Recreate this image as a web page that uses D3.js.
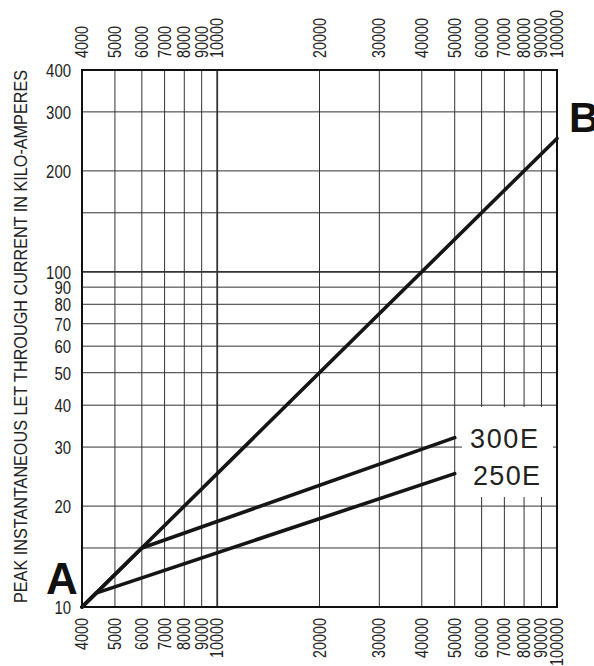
<!DOCTYPE html>
<html><head><meta charset="utf-8">
<script src="https://cdn.jsdelivr.net/npm/d3@7"></script>
<style>
body{margin:0;background:#fff;}
svg{display:block;}
.tk{font-family:"Liberation Sans","DejaVu Sans",sans-serif;font-size:18px;fill:#222;}
</style></head>
<body>
<script>
const xTickValues = [4000,5000,6000,7000,8000,9000,10000,20000,30000,40000,50000,60000,70000,80000,90000,100000];
const yTickValues = [10,20,30,40,50,60,70,80,90,100,200,300,400];
const yGridValues = [10,15,20,30,40,50,60,70,80,90,100,150,200,300,400];
const lineAB = [[4000,10],[100000,250]];
const line300E = [[4000,10],[6000,15],[50000,32]];
const line250E = [[4000,10],[4400,11],[50000,25]];
const seriesLabels = ["300E","250E"];
const yTitle = "PEAK INSTANTANEOUS LET THROUGH CURRENT IN KILO-AMPERES";

const W=594,H=666;
const L=82,R=557,T=70,B=607;
const svg=d3.select("body").append("svg").attr("width",W).attr("height",H);
const x=d3.scaleLog().domain([4000,100000]).range([L,R]);
const y=d3.scaleLog().domain([10,400]).range([B,T]);
const digitW=8.0;

// grid
svg.append("g").selectAll("line").data(xTickValues).join("line")
  .attr("x1",d=>x(d)).attr("x2",d=>x(d)).attr("y1",T).attr("y2",B)
  .attr("stroke","#333").attr("stroke-width",d=>d===10000?1.8:1);
svg.append("g").selectAll("line").data(yGridValues).join("line")
  .attr("y1",d=>y(d)).attr("y2",d=>y(d)).attr("x1",L).attr("x2",R)
  .attr("stroke","#333").attr("stroke-width",d=>d===100?1.8:1);

// white box behind labels
svg.append("rect").attr("x",462).attr("y",407).attr("width",91).attr("height",90).attr("fill","#fff");

// border
svg.append("rect").attr("x",L).attr("y",T).attr("width",R-L).attr("height",B-T)
  .attr("fill","none").attr("stroke","#111").attr("stroke-width",2);

// curves
const lg=d3.line().x(d=>x(d[0])).y(d=>y(d[1]));
[lineAB,line300E,line250E].forEach(s=>{
  svg.append("path").datum(s).attr("d",lg).attr("fill","none")
    .attr("stroke","#151515").attr("stroke-width",3.6).attr("stroke-linejoin","round").attr("stroke-linecap","round");
});

// y ticks
svg.append("g").selectAll("text").data(yTickValues).join("text").attr("class","tk")
  .attr("x",71).attr("y",d=>y(d)+7).attr("text-anchor","end")
  .attr("textLength",d=>String(d).length*8.3).attr("lengthAdjust","spacingAndGlyphs").text(d=>d);

// x ticks bottom
svg.append("g").selectAll("text").data(xTickValues).join("text").attr("class","tk")
  .attr("transform",d=>`translate(${x(d)+6},618) rotate(-90)`).attr("text-anchor","end")
  .attr("textLength",d=>String(d).length*digitW).attr("lengthAdjust","spacingAndGlyphs").text(d=>d);
// x ticks top
svg.append("g").selectAll("text").data(xTickValues).join("text").attr("class","tk")
  .attr("transform",d=>`translate(${x(d)+6},58) rotate(-90)`).attr("text-anchor","start")
  .attr("textLength",d=>String(d).length*digitW).attr("lengthAdjust","spacingAndGlyphs").text(d=>d);

// y title
svg.append("text").attr("transform",`translate(27,${(603+70)/2}) rotate(-90)`)
  .attr("text-anchor","middle").attr("textLength",533).attr("lengthAdjust","spacingAndGlyphs")
  .style("font-family","Liberation Sans, sans-serif").style("font-size","19px").attr("fill","#222").text(yTitle);

// series labels
svg.append("text").attr("x",470).attr("y",448).style("font-family","Liberation Sans, sans-serif").style("font-size","27px").attr("fill","#222").attr("textLength",68).text(seriesLabels[0]);
svg.append("text").attr("x",473).attr("y",485).style("font-family","Liberation Sans, sans-serif").style("font-size","27px").attr("fill","#222").attr("textLength",67).text(seriesLabels[1]);

// A and B
svg.append("text").attr("x",46).attr("y",594).style("font-family","Liberation Sans, sans-serif").style("font-size","44px").style("font-weight","bold").attr("fill","#111").text("A");
svg.append("text").attr("x",569).attr("y",132).style("font-family","Liberation Sans, sans-serif").style("font-size","42px").style("font-weight","bold").attr("fill","#111").text("B");
</script>
</body></html>
